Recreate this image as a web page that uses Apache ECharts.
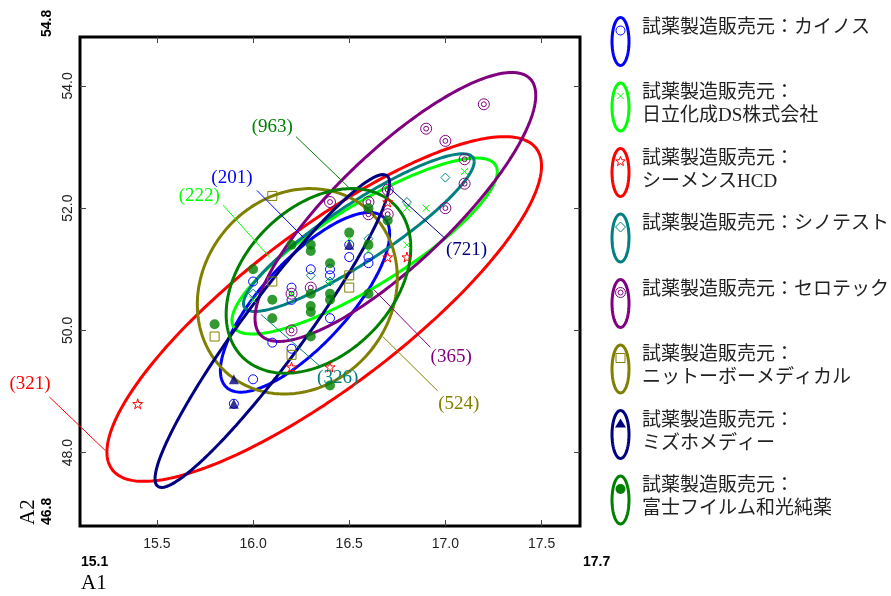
<!DOCTYPE html>
<html><head><meta charset="utf-8">
<script src="https://cdn.jsdelivr.net/npm/echarts@6/dist/echarts.min.js"></script>
<style>html,body{margin:0;padding:0;background:#fff}#c{width:891px;height:596px}</style>
</head><body><div id="c"></div>
<script>
// ---------- DATA ----------
const groupNames = [
  '試薬製造販売元：カイノス',
  '試薬製造販売元：\n日立化成DS株式会社',
  '試薬製造販売元：\nシーメンスHCD',
  '試薬製造販売元：シノテスト',
  '試薬製造販売元：セロテック',
  '試薬製造販売元：\nニットーボーメディカル',
  '試薬製造販売元：\nミズホメディー',
  '試薬製造販売元：\n富士フイルム和光純薬'
];
const sampleCounts = ['(201)','(222)','(321)','(326)','(365)','(524)','(721)','(963)'];
const xTicks = [15.5, 16.0, 16.5, 17.0, 17.5];
const yTicks = [48.0, 50.0, 52.0, 54.0];
const xRange = [15.1, 17.7];
const yRange = [46.8, 54.8];
const xTitle = 'A1';
const yTitle = 'A2';

const ptsKainos = [[16.0,49.2],[15.9,48.8],[16.0,50.8],[16.1,49.8],[16.2,49.7],[16.2,50.7],[16.2,50.5],[16.3,51.0],[16.4,51.0],[16.4,50.9],[16.4,50.2],[16.5,51.2],[16.5,51.4],[16.6,51.2],[16.6,51.1]];
const ptsHitachi = [[17.1,52.6],[16.9,52.0],[16.8,52.0],[16.8,51.4],[16.5,51.5],[16.6,51.3],[16.2,50.6],[16.4,50.8],[16.0,50.5]];
const ptsSiemens = [[15.4,48.8],[16.2,49.4],[16.4,49.4],[16.7,51.2],[16.8,51.2],[16.7,52.1]];
const ptsShino = [[17.0,52.5],[16.8,52.1],[16.6,51.5],[16.3,50.9],[16.4,50.8],[16.0,50.6]];
const ptsSero = [[17.2,53.7],[16.9,53.3],[17.0,53.1],[17.1,52.8],[17.1,52.4],[17.0,52.0],[16.7,52.3],[16.6,52.1],[16.6,51.9],[16.7,51.9],[16.4,52.1],[16.2,50.6],[16.3,50.7],[16.2,50.0]];
const ptsNitto = [[15.8,49.9],[16.1,52.2],[16.1,50.8],[16.2,49.6],[16.5,50.9],[16.5,50.7]];
const ptsMizuho = [[15.9,49.2],[15.9,48.8],[16.5,51.4]];
const ptsFuji = [[15.8,50.1],[16.0,51.0],[16.1,50.5],[16.1,50.2],[16.2,51.4],[16.3,51.4],[16.3,51.3],[16.3,50.6],[16.3,50.4],[16.3,50.3],[16.3,49.9],[16.4,51.1],[16.4,50.6],[16.4,50.5],[16.4,49.1],[16.5,51.6],[16.6,52.0],[16.6,51.4],[16.7,51.8],[16.6,50.6]];

// ellipse parameters: centre, half-extent along x and y, correlation
const ellCx  = [16.27, 16.58, 16.37, 16.55, 16.74, 16.23, 16.10, 16.34];
const ellCy  = [50.46, 51.38, 50.35, 51.60, 52.02, 50.64, 49.99, 50.81];
const ellAx  = [0.44, 0.69, 1.13, 0.60, 0.73, 0.52, 0.61, 0.48];
const ellAy  = [1.47, 1.44, 2.82, 1.29, 2.20, 1.68, 2.56, 1.51];
const ellRho = [0.76, 0.845, 0.83, 0.90, 0.83, 0.13, 0.945, 0.36];

// annotation text positions and leader lines (data coordinates)
const annTextX = [15.89, 15.72, 14.84, 16.44, 17.03, 17.07, 17.11, 16.10];
const annTextY = [52.49, 52.20, 49.12, 49.22, 49.56, 48.79, 51.31, 53.32];
const annFromX = [16.02, 15.844, 14.941, 16.041, 16.923, 16.96, 17.0, 16.223];
const annFromY = [52.29, 52.05, 48.91, 50.26, 49.72, 49.01, 51.50, 53.17];
const annToX   = [16.265, 16.088, 15.232, 16.353, 16.628, 16.674, 16.706, 16.514];
const annToY   = [51.51, 51.19, 48.033, 49.40, 50.667, 49.90, 52.34, 52.29];

// ---------- STYLE ----------
const colors = ['#0000ff','#00ff00','#ff0000','#008080','#800080','#808000','#000080','#008000'];
const groupPts = [ptsKainos, ptsHitachi, ptsSiemens, ptsShino, ptsSero, ptsNitto, ptsMizuho, ptsFuji];
const STAR = 'path://M50,0L61,35L98,35L68,57L79,91L50,70L21,91L32,57L2,35L39,35Z';
const DBL = 'path://M50,0A50,50,0,1,1,49.9,0ZM50,28A22,22,0,1,1,49.9,28Z';
const XS = 'path://M0,0L10,10M10,0L0,10';
const symbols = ['circle', XS, STAR, 'diamond', DBL, 'rect', 'triangle', 'circle'];
const symSizes = [9, 7, 10, 9, 11, 9, 10, 10];
const filled = [false, false, false, false, false, false, true, true];

function ellipsePts(i) {
  const pts = []; const d = Math.acos(ellRho[i]);
  for (let k = 0; k <= 240; k++) {
    const t = 2 * Math.PI * k / 240;
    pts.push([ellCx[i] + ellAx[i] * Math.cos(t), ellCy[i] + ellAy[i] * Math.cos(t - d)]);
  }
  return pts;
}

const chart = echarts.init(document.getElementById('c'));
const series = [];
for (let i = 0; i < 8; i++) {
  series.push({
    type: 'line', data: ellipsePts(i), showSymbol: false, smooth: false, silent: true,
    xAxisIndex: 0, yAxisIndex: 0, z: 2,
    lineStyle: { color: colors[i], width: 3 }
  });
}
for (let i = 0; i < 8; i++) {
  series.push({
    type: 'scatter', data: groupPts[i], symbol: symbols[i], symbolSize: symSizes[i],
    xAxisIndex: 0, yAxisIndex: 0, z: 3, silent: true,
    itemStyle: filled[i] ? { color: colors[i] } :
      { color: 'rgba(0,0,0,0)', borderColor: colors[i], borderWidth: 1, opacity: 1 }
  });
}
const labelFont = { color: '#222', fontSize: 14, fontFamily: 'Liberation Sans' };
chart.setOption({
  animation: false,
  grid: { left: 80, right: 311, top: 37, bottom: 70, show: true, borderColor: '#000', borderWidth: 3, backgroundColor: 'rgba(0,0,0,0)' },
  xAxis: [
    { type: 'value', min: xRange[0], max: xRange[1], position: 'bottom',
      axisLine: { show: false }, splitLine: { show: false },
      axisTick: { show: true, inside: true, length: 6, customValues: xTicks, lineStyle: { color: '#444' } },
      axisLabel: Object.assign({ customValues: xTicks, margin: 11, formatter: v => v.toFixed(1) }, labelFont) },
    { type: 'value', min: xRange[0], max: xRange[1], position: 'top',
      axisLine: { show: false }, splitLine: { show: false },
      axisTick: { show: true, inside: true, length: 6, customValues: xTicks, lineStyle: { color: '#444' } },
      axisLabel: { show: false } }
  ],
  yAxis: [
    { type: 'value', min: yRange[0], max: yRange[1], position: 'left',
      axisLine: { show: false }, splitLine: { show: false },
      axisTick: { show: true, inside: true, length: 6, customValues: yTicks, lineStyle: { color: '#444' } },
      axisLabel: Object.assign({ customValues: yTicks, rotate: 90, margin: 5, formatter: v => v.toFixed(1) }, labelFont) },
    { type: 'value', min: yRange[0], max: yRange[1], position: 'right',
      axisLine: { show: false }, splitLine: { show: false },
      axisTick: { show: true, inside: true, length: 6, customValues: yTicks, lineStyle: { color: '#444' } },
      axisLabel: { show: false } }
  ],
  series: series
});

// ---------- annotations & legend (positions via library scale) ----------
const P = (x, y) => chart.convertToPixel({ xAxisIndex: 0, yAxisIndex: 0 }, [x, y]);
const g = [];
for (let i = 0; i < 8; i++) {
  const a = P(annFromX[i], annFromY[i]), b = P(annToX[i], annToY[i]), t = P(annTextX[i], annTextY[i]);
  g.push({ type: 'line', shape: { x1: a[0], y1: a[1], x2: b[0], y2: b[1] }, style: { stroke: colors[i], lineWidth: 1 }, z: 10 });
  g.push({ type: 'text', x: t[0], y: t[1], z: 11,
    style: { text: sampleCounts[i], fill: colors[i], font: '19px "Liberation Serif"', textAlign: 'center', textVerticalAlign: 'middle' } });
}
// min / max bold labels & axis titles
const pMin = P(xRange[0], yRange[0]), pMax = P(xRange[1], yRange[1]);
const bold = 'bold 14px "Liberation Sans"';
g.push({ type: 'text', x: pMin[0] + 1, y: pMin[1] + 36, style: { text: xRange[0].toFixed(1), font: bold, fill: '#000', textAlign: 'left', textVerticalAlign: 'middle' } });
g.push({ type: 'text', x: pMax[0] + 3, y: pMin[1] + 36, style: { text: xRange[1].toFixed(1), font: bold, fill: '#000', textAlign: 'left', textVerticalAlign: 'middle' } });
g.push({ type: 'text', x: pMin[0] + 1, y: pMin[1] + 57, style: { text: xTitle, font: '21px "Liberation Serif"', fill: '#000', textAlign: 'left', textVerticalAlign: 'middle' } });
g.push({ type: 'text', x: pMin[0] - 33, y: pMin[1] - 1, rotation: Math.PI / 2, style: { text: yRange[0].toFixed(1), font: bold, fill: '#000', textAlign: 'left', textVerticalAlign: 'middle' } });
g.push({ type: 'text', x: pMin[0] - 33, y: pMax[1], rotation: Math.PI / 2, style: { text: yRange[1].toFixed(1), font: bold, fill: '#000', textAlign: 'left', textVerticalAlign: 'middle' } });
g.push({ type: 'text', x: pMin[0] - 52, y: pMin[1] - 1, rotation: Math.PI / 2, style: { text: yTitle, font: '21px "Liberation Serif"', fill: '#000', textAlign: 'left', textVerticalAlign: 'middle' } });

// legend
function ellPoly(cx, cy, rx, ry) { const p = []; for (let k = 0; k < 60; k++) { const t = 2 * Math.PI * k / 60; p.push([cx + rx * Math.cos(t), cy + ry * Math.sin(t)]); } return p; }
function starPts(cx, cy, R, r) { const p = []; for (let k = 0; k < 10; k++) { const a = -Math.PI / 2 + k * Math.PI / 5; const rr = k % 2 ? r : R; p.push([cx + rr * Math.cos(a), cy + rr * Math.sin(a)]); } return p; }
for (let i = 0; i < 8; i++) {
  const cy = 41.5 + 65.5 * i, cx = 620.5, my = 30.5 + 65.5 * i, c = colors[i];
  g.push({ type: 'polygon', shape: { points: ellPoly(cx, cy, 8.5, 24) }, style: { fill: 'none', stroke: c, lineWidth: 3 } });
  const st = { fill: 'none', stroke: c, lineWidth: 1 };
  if (i === 0) g.push({ type: 'circle', shape: { cx: cx, cy: my, r: 4.5 }, style: st });
  if (i === 1) { g.push({ type: 'line', shape: { x1: cx - 3, y1: my - 3, x2: cx + 3, y2: my + 3 }, style: st }); g.push({ type: 'line', shape: { x1: cx + 3, y1: my - 3, x2: cx - 3, y2: my + 3 }, style: st }); }
  if (i === 2) g.push({ type: 'polygon', shape: { points: starPts(cx, my, 5, 2.2) }, style: st });
  if (i === 3) g.push({ type: 'polygon', shape: { points: [[cx, my - 5], [cx + 5, my], [cx, my + 5], [cx - 5, my]] }, style: st });
  if (i === 4) { g.push({ type: 'circle', shape: { cx: cx, cy: my, r: 5 }, style: st }); g.push({ type: 'circle', shape: { cx: cx, cy: my, r: 2.5 }, style: st }); }
  if (i === 5) g.push({ type: 'rect', shape: { x: cx - 4.5, y: my - 4.5, width: 9, height: 9 }, style: st });
  if (i === 6) g.push({ type: 'polygon', shape: { points: [[cx, my - 5], [cx + 5.5, my + 4], [cx - 5.5, my + 4]] }, style: { fill: c } });
  if (i === 7) g.push({ type: 'circle', shape: { cx: cx, cy: my, r: 5 }, style: { fill: c } });
  g.push({ type: 'text', x: 642, y: 28 + 65.5 * i - 11.5,
    style: { text: groupNames[i], fill: '#222', font: '19px "Liberation Serif", "Noto Sans CJK JP"', lineHeight: 23, textAlign: 'left', textVerticalAlign: 'top' } });
}
chart.setOption({ graphic: g });
</script>
</body></html>
